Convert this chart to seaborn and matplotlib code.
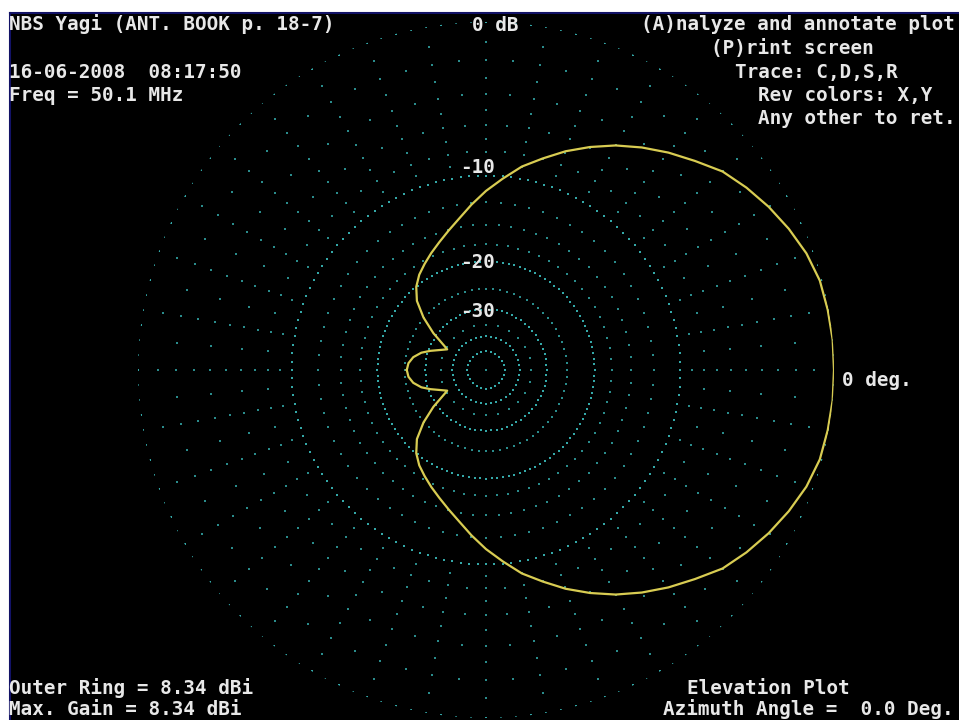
import numpy as np
import pandas as pd
import matplotlib
matplotlib.use("Agg")
import matplotlib.pyplot as plt
import seaborn as sns

# ---------------- data ----------------
pattern_angle_deg = [-180, -175, -170, -165, -161, -152, -150, -145, -140, -135, -130, -125,
                     -120, -115, -110, -105, -100, -95, -90, -85, -80, -75, -70, -65, -60,
                     -55, -50, -45, -40, -35, -30, -25, -20, -15, -10, -5, 0,
                     5, 10, 15, 20, 25, 30, 35, 40, 45, 50, 55, 60, 65, 70, 75, 80, 85,
                     90, 95, 100, 105, 110, 115, 120, 125, 130, 135, 140, 145, 150, 152,
                     161, 165, 170, 175, 180]
pattern_gain_db = [-25.4, -25.7, -26.6, -28.3, -30.5, -35.5, -34.0, -29.0, -24.9, -21.8, -20.0, -18.8,
                   -17.9, -17.0, -16.1, -15.1, -14.0, -12.7, -11.4, -10.2, -8.95, -7.95, -6.9, -5.95, -5.05,
                   -4.25, -3.5, -2.8, -2.05, -1.55, -1.1, -0.7, -0.35, -0.12, -0.05, 0.0, 0.0,
                   0.0, -0.05, -0.12, -0.35, -0.7, -1.1, -1.55, -2.05, -2.8, -3.5, -4.25, -5.05, -5.95,
                   -6.9, -7.95, -8.95, -10.2, -11.4, -12.7, -14.0, -15.1, -16.1, -17.0, -17.9, -18.8,
                   -20.0, -21.8, -24.9, -29.0, -34.0, -35.5, -30.5, -28.3, -26.6, -25.7, -25.4]

ring_levels_db = [0, -10, -20, -30, -40, -50]
ring_labels = ["0 dB", "-10", "-20", "-30"]
spoke_levels_fine_db = [-1, -2, -3, -4, -5, -6, -7, -8, -9, -12.5, -15, -17.5, -25]
spoke_levels_coarse_db = [-2, -4, -6, -8, -12.5, -15, -17.5, -25]

title_left = ["NBS Yagi (ANT. BOOK p. 18-7)", "16-06-2008  08:17:50", "Freq = 50.1 MHz"]
menu_right = ["(A)nalyze and annotate plot", "(P)rint screen", "Trace: C,D,S,R",
              "Rev colors: X,Y", "Any other to ret."]
bottom_left = ["Outer Ring = 8.34 dBi", "Max. Gain = 8.34 dBi"]
bottom_right = ["Elevation Plot", "Azimuth Angle =  0.0 Deg."]
angle_label = "0 deg."


def arrl_radius(db):
    """ARRL log scale: each 2 dB shrinks radius by factor 0.89."""
    return 0.89 ** (-np.asarray(db, dtype=float) / 2.0)


# ---------------- figure ----------------
W, H, DPI = 959, 720, 100
fig = plt.figure(figsize=(W / DPI, H / DPI), dpi=DPI, facecolor="white")

# black screen panel
bg = fig.add_axes([10 / W, 0, (W - 10) / W, (H - 13) / H])
bg.set_facecolor("black")
bg.set_xticks([]); bg.set_yticks([])
for s in ["right", "bottom"]:
    bg.spines[s].set_visible(False)
for s in ["top", "left"]:
    bg.spines[s].set_color("#121266")
    bg.spines[s].set_linewidth(1.5)

# polar plot: centre (486, 370) px, outer radius 348 px
cx, cy, R = 486, 370, 348
pax = fig.add_axes([(cx - R) / W, (H - cy - R) / H, 2 * R / W, 2 * R / H], projection="polar")
pax.set_facecolor("none")
pax.set_theta_zero_location("E")

# grid dots along spokes
sp_th, sp_r = [], []
for a in np.arange(0, 360, 5):
    levels = spoke_levels_fine_db if a % 10 == 0 else spoke_levels_coarse_db
    for lv in levels:
        sp_th.append(np.deg2rad(a)); sp_r.append(float(arrl_radius(lv)))
for a in np.arange(0, 360, 15):
    sp_th.append(np.deg2rad(a)); sp_r.append(float(arrl_radius(-35)))
sp_th.append(0.0); sp_r.append(0.0)
spokes = pd.DataFrame({"theta": sp_th, "r": sp_r})
sns.scatterplot(data=spokes, x="theta", y="r", ax=pax, marker="s", s=2.0,
                color="#2a8c8c", linewidth=0, legend=False, zorder=2)

# dotted rings
ring_steps = {0: 2.5, -10: 2.5, -20: 3.0, -30: 5.0, -40: 9.0, -50: 15.0}
rg_th, rg_r = [], []
for lv in ring_levels_db:
    for a in np.arange(0, 360, ring_steps[lv]):
        rg_th.append(np.deg2rad(a)); rg_r.append(float(arrl_radius(lv)))
rings = pd.DataFrame({"theta": rg_th, "r": rg_r})
sns.scatterplot(data=rings, x="theta", y="r", ax=pax, marker="s", s=2.4,
                color="#34a8a8", linewidth=0, legend=False, zorder=2)

# antenna pattern
pat = pd.DataFrame({"theta": np.deg2rad(pattern_angle_deg),
                    "r": arrl_radius(pattern_gain_db)})
sns.lineplot(data=pat, x="theta", y="r", ax=pax, sort=False, color="#d8cc52",
             linewidth=1.6, zorder=3)

pax.set_ylim(0, 1)
pax.grid(False)
pax.set_xticks([]); pax.set_yticks([])
pax.set_xlabel(""); pax.set_ylabel("")
pax.spines["polar"].set_visible(False)

# ---------------- text ----------------
FONT = dict(family="DejaVu Sans Mono", weight="bold", size=13.9, color="#e8e8e8")


def txt(x_px, base_px, s):
    fig.text(x_px / W, 1 - base_px / H, s, ha="left", va="baseline", **FONT)


txt(9, 30, title_left[0])
txt(9, 78, title_left[1])
txt(9, 101, title_left[2])

menu_x = [641, 711, 735, 758, 758]
menu_y = [30, 54, 78, 101, 124]
for s, x, y in zip(menu_right, menu_x, menu_y):
    txt(x, y, s)

txt(9, 694, bottom_left[0])
txt(9, 715, bottom_left[1])
txt(687, 694, bottom_right[0])
txt(663, 715, bottom_right[1])

# ring labels
txt(472, 31, ring_labels[0])
txt(460, 173, ring_labels[1])
txt(460, 268, ring_labels[2])
txt(460, 317, ring_labels[3])
txt(842, 386, angle_label)

fig.savefig("out.png", dpi=DPI, facecolor="white")
